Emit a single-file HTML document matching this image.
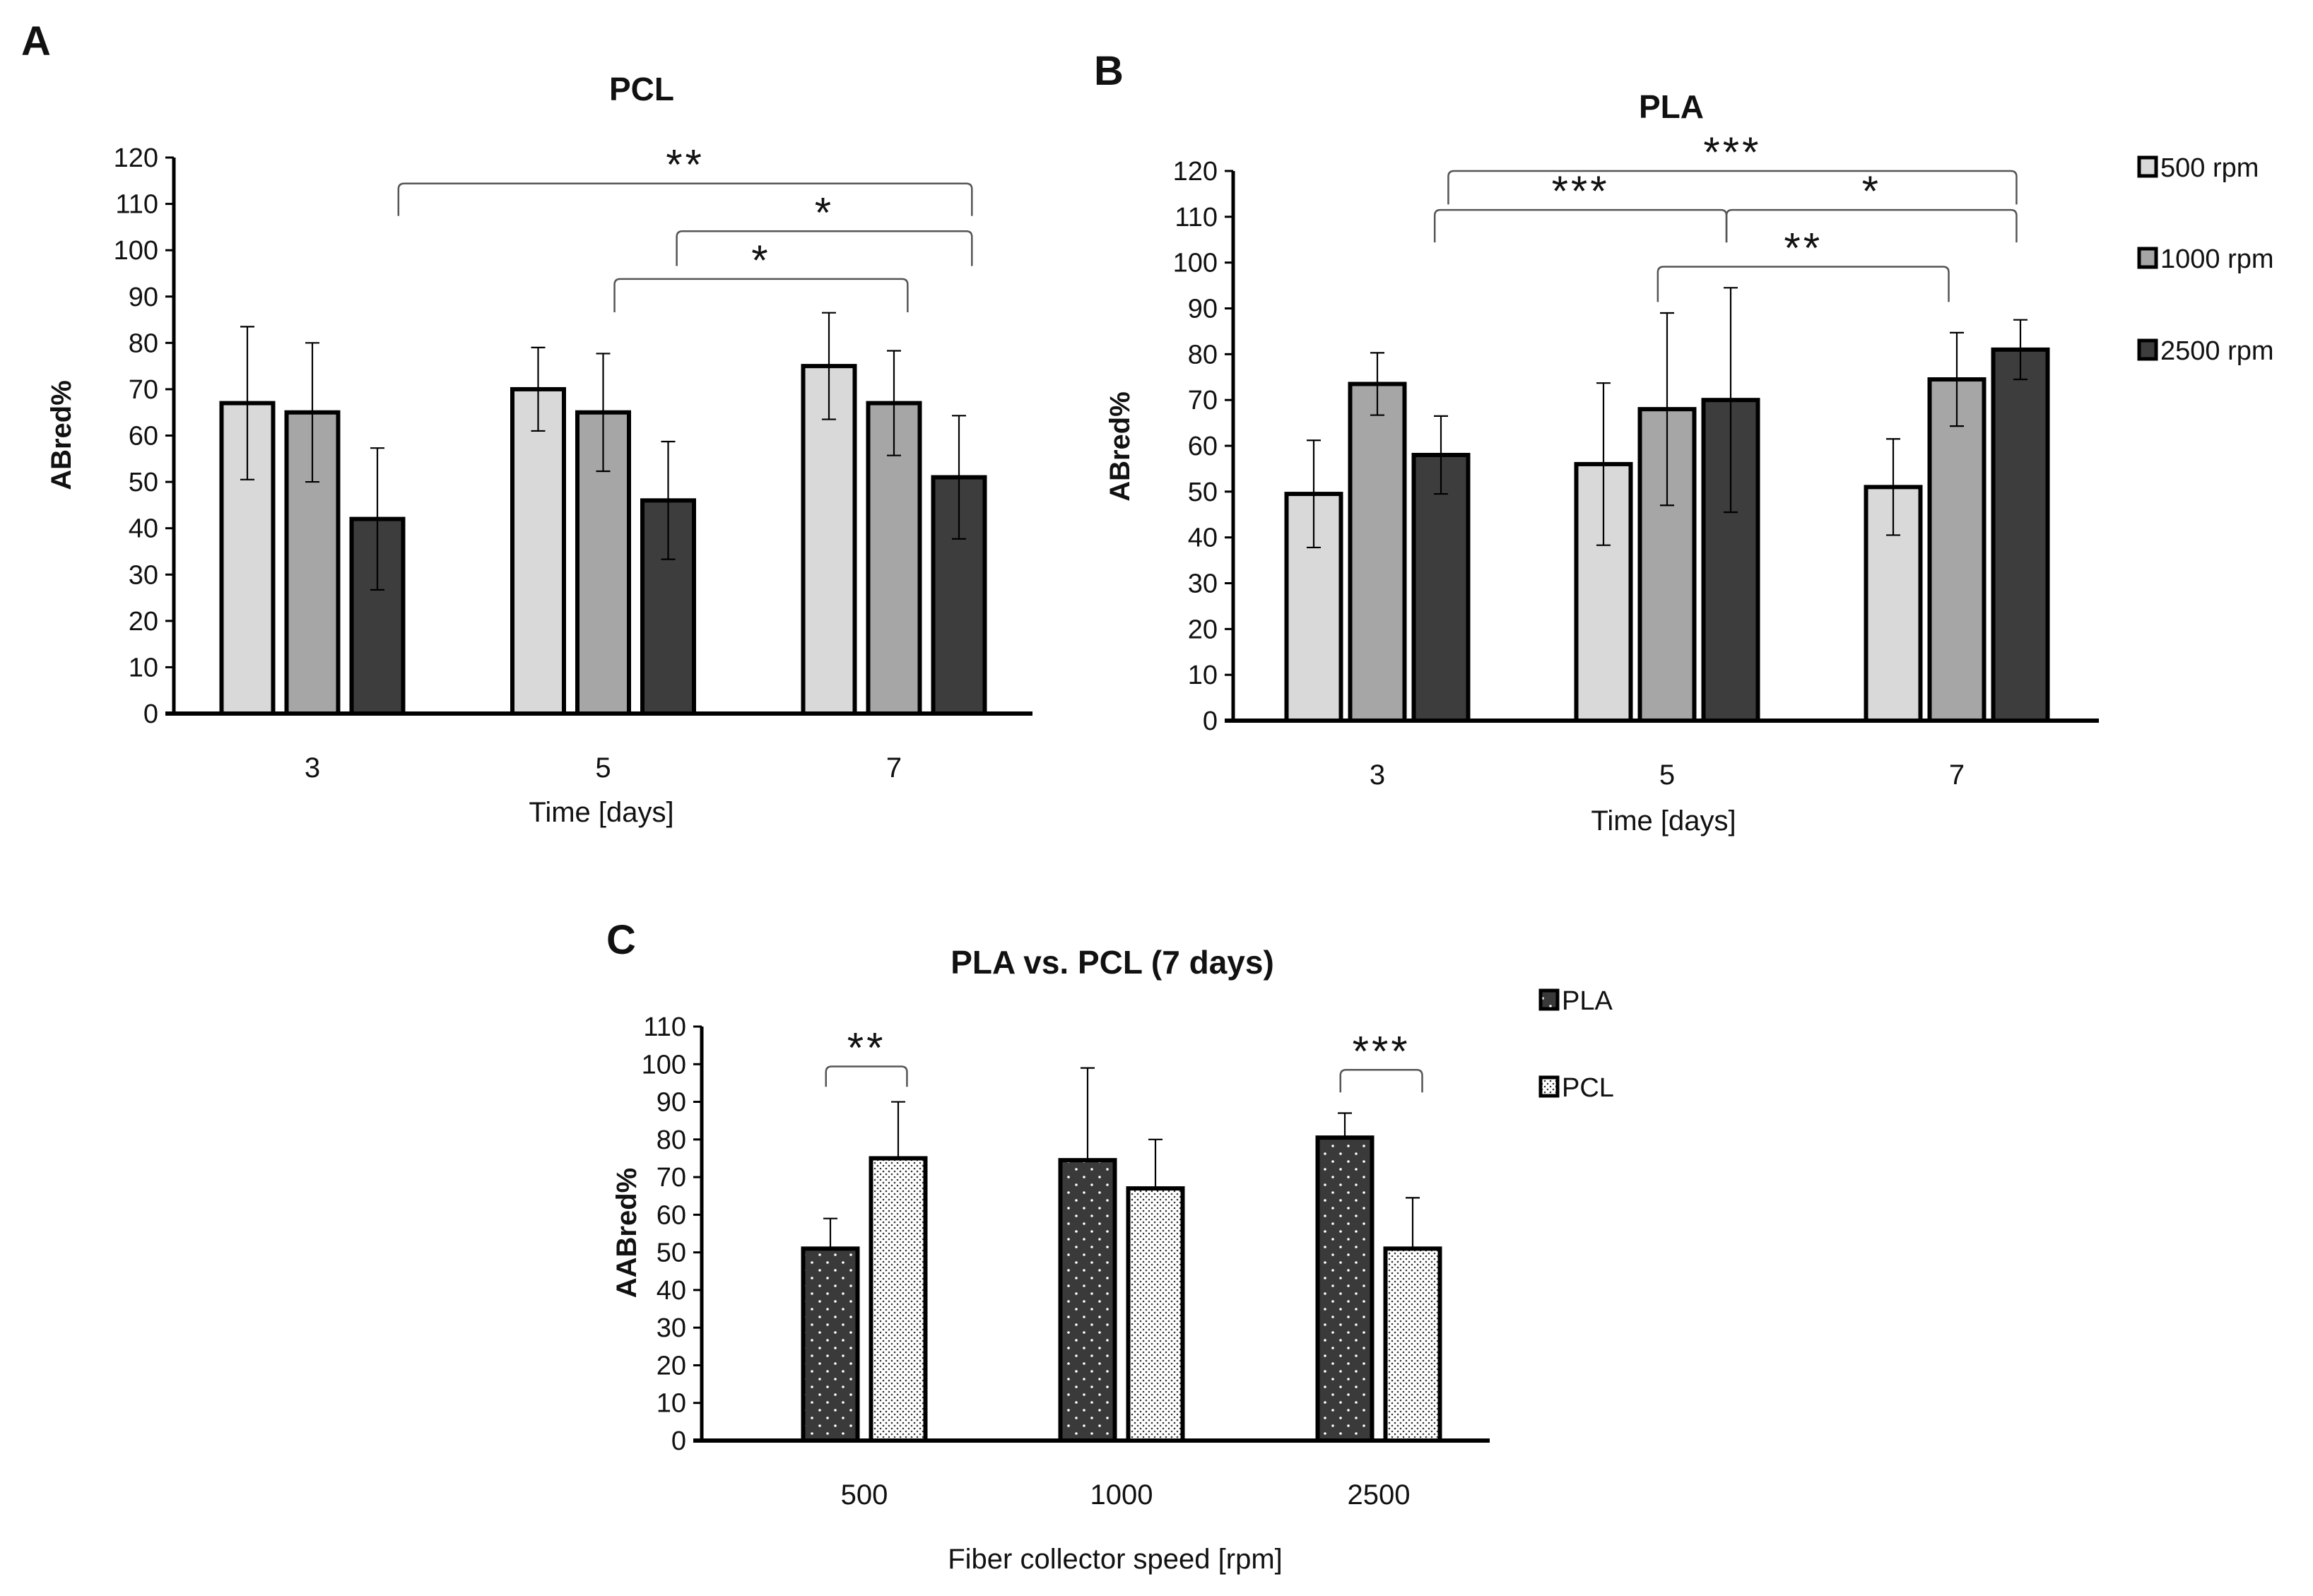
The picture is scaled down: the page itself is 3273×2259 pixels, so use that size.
<!DOCTYPE html>
<html><head><meta charset="utf-8"><style>
html,body{margin:0;padding:0;background:#fff}
svg{display:block}
text{font-family:"Liberation Sans Narrow","Liberation Sans",sans-serif;fill:#111}
</style></head><body>
<svg id="fig" width="3273" height="2259" viewBox="0 0 3273 2259" xmlns="http://www.w3.org/2000/svg">
<defs>
<pattern id="plaPat" width="22" height="22" patternUnits="userSpaceOnUse"><rect width="22" height="22" fill="#3a3a3a"/><circle cx="5" cy="5" r="1.8" fill="#fff"/><circle cx="16" cy="16" r="1.8" fill="#fff"/></pattern>
<pattern id="pclPat" width="8" height="8" patternUnits="userSpaceOnUse"><rect width="8" height="8" fill="#fff"/><circle cx="2" cy="2" r="1.3" fill="#333"/><circle cx="6" cy="6" r="1.3" fill="#333"/></pattern>
</defs>
<g id="root"></g>
</svg>
<script>
// Panel A (PCL)
const catsA = ["3","5","7"];
const a500 = [67,70,75], a500e = [16.5,9,11.5];
const a1000 = [65,65,67], a1000e = [15,12.7,11.3];
const a2500 = [42,46,51], a2500e = [15.3,12.7,13.3];
// Panel B (PLA)
const catsB = ["3","5","7"];
const b500 = [49.5,56,51], b500e = [11.7,17.7,10.5];
const b1000 = [73.5,68,74.5], b1000e = [6.8,21,10.2];
const b2500 = [58,70,81], b2500e = [8.5,24.5,6.5];
// Panel C
const catsC = ["500","1000","2500"];
const cPLA = [51,74.5,80.5], cPLAe = [8,24.5,6.5];
const cPCL = [75,67,51], cPCLe = [15,13,13.5];
const ticks120 = [0,10,20,30,40,50,60,70,80,90,100,110,120];
const ticks110 = [0,10,20,30,40,50,60,70,80,90,100,110];
// brackets: [fromCat, toCat, topValue, leftDropValue, rightDropValue, label]
const brA = [[0.296,2.268,114.4,107.4,107.4,"**"],[1.253,2.268,104.1,96.6,96.6,"*"],[1.039,2.047,93.8,86.6,86.6,"*"]];
const brB = [[0.245,2.206,120,112.7,112.7,"***"],[0.198,1.205,111.5,104.4,104.4,"***"],[1.205,2.206,111.5,104.4,104.4,"*"],[0.968,1.972,99.1,91.4,91.4,"**"]];
const brC = [[-0.149,0.166,99.4,94,94,"**"],[1.851,2.169,98.5,92.5,92.5,"***"]];

const NS="http://www.w3.org/2000/svg";
const root=document.getElementById('root');
function mk(tag,attrs,parent){const e=document.createElementNS(NS,tag);for(const k in attrs)e.setAttribute(k,attrs[k]);(parent||root).appendChild(e);return e;}
function txt(s,attrs,parent){const e=mk('text',attrs,parent);e.textContent=s;return e;}

function panel(o){
  const g=mk('g',{});
  
  
  const y=v=>o.y0-(v/o.ymax)*(o.y0-o.ytop);
  const x=i=>o.cx0+i*o.dx;
  // y ticks
  o.ticks.forEach(t=>{
    const tl=txt(String(t),{x:o.ax-22,y:y(t)+13,'font-size':38,'text-anchor':'end'},g);
    
    
    mk('line',{x1:o.ax-12,x2:o.ax,y1:y(t),y2:y(t),stroke:'#000','stroke-width':3},g);
  });
  // bars
  o.series.forEach((s,si)=>{
    s.vals.forEach((v,i)=>{
      const cx=x(i)+s.off;
      const r=mk('rect',{x:cx-o.bw/2,y:y(v),width:o.bw,height:o.y0-y(v),fill:s.fill,stroke:'#000','stroke-width':6},g);
      
      
      const e=s.err[i];
      const yt=y(v+e), yb=o.oneSided?y(v):y(v-e);
      const el=mk('path',{d:`M${cx} ${yt}V${yb}M${cx-10} ${yt}H${cx+10}`+(o.oneSided?'':`M${cx-10} ${yb}H${cx+10}`),stroke:'#000','stroke-width':2.2,fill:'none'},g);
      
      
    });
  });
  // axes
  const ya=mk('line',{x1:o.ax,x2:o.ax,y1:o.ytop,y2:o.y0,stroke:'#000','stroke-width':5},g);
  
  
  const xa=mk('line',{x1:o.ax-12,x2:o.xend,y1:o.y0,y2:o.y0,stroke:'#000','stroke-width':6},g);
  
  
  o.cats.forEach((c,i)=>{
    const t=txt(c,{x:x(i),y:o.y0+90,'font-size':40,'text-anchor':'middle'},g);
    
    
  });
  // brackets
  o.br.forEach(b=>{
    const x1=x(b[0]),x2=x(b[1]),yt=y(b[2]),yl=y(b[3]),yr=y(b[4]);
    const p=mk('path',{d:`M${x1} ${yl}V${yt+8}Q${x1} ${yt} ${x1+8} ${yt}H${x2-8}Q${x2} ${yt} ${x2} ${yt+8}V${yr}`,stroke:'#555','stroke-width':2.5,fill:'none'},g);
    
    
    const s=txt(b[5],{x:(x1+x2)/2,y:yt-6,'font-size':60,'text-anchor':'middle','letter-spacing':4},g);
    
    
  });
  // labels
  const tt=txt(o.title,{x:o.titleX,y:o.titleY,'font-size':46,'font-weight':'bold','text-anchor':'middle'},g);
  
  
  const pl=txt(o.letter,{x:o.letterX,y:o.letterY,'font-size':58,'font-weight':'bold'},g);
  
  
  const xl=txt(o.xlabel,{x:o.xlX,y:o.xlY,'font-size':40,'text-anchor':'middle'},g);
  
  
  const yl=txt(o.ylabel,{x:0,y:0,'font-size':40,'font-weight':'bold','text-anchor':'middle',transform:`translate(${o.ylX},${o.ylY}) rotate(-90)`},g);
  
  
  // legend
  (o.legend||[]).forEach(L=>{
    const r=mk('rect',{x:L.x,y:L.y-13,width:24,height:26,fill:L.fill,stroke:'#000','stroke-width':5},g);
    
    
    const t=txt(L.label,{x:L.x+30,y:L.y+14,'font-size':38},g);
    
    
  });
}

panel({name:'panel-a-pcl',cats:catsA,ax:246,ytop:223,y0:1010,ymax:120,ticks:ticks120,cx0:442,dx:411.5,xend:1461,bw:73,
  series:[{key:'500',vals:a500,err:a500e,fill:'#d9d9d9',off:-92},{key:'1000',vals:a1000,err:a1000e,fill:'#a6a6a6',off:0},{key:'2500',vals:a2500,err:a2500e,fill:'#3d3d3d',off:92}],
  br:brA,title:'PCL',titleX:908,titleY:142,letter:'A',letterX:30,letterY:78,xlabel:'Time [days]',xlX:851,xlY:1163,ylabel:'ABred%',ylX:100,ylY:616});

panel({name:'panel-b-pla',cats:catsB,ax:1745,ytop:242,y0:1020,ymax:120,ticks:ticks120,cx0:1949,dx:410,xend:2970,bw:77,
  series:[{key:'500',vals:b500,err:b500e,fill:'#d9d9d9',off:-90},{key:'1000',vals:b1000,err:b1000e,fill:'#a6a6a6',off:0},{key:'2500',vals:b2500,err:b2500e,fill:'#3d3d3d',off:90}],
  br:brB,title:'PLA',titleX:2365,titleY:167,letter:'B',letterX:1548,letterY:120,xlabel:'Time [days]',xlX:2354,xlY:1175,ylabel:'ABred%',ylX:1598,ylY:632,
  legend:[{x:3027,y:236,fill:'#d9d9d9',label:'500 rpm'},{x:3027,y:365,fill:'#a6a6a6',label:'1000 rpm'},{x:3027,y:495,fill:'#3d3d3d',label:'2500 rpm'}]});

panel({name:'panel-c-pla-vs-pcl',cats:catsC,ax:993,ytop:1453,y0:2039,ymax:110,ticks:ticks110,cx0:1223,dx:364,xend:2108,bw:77,oneSided:true,
  series:[{key:'pla',vals:cPLA,err:cPLAe,fill:'url(#plaPat)',off:-48},{key:'pcl',vals:cPCL,err:cPCLe,fill:'url(#pclPat)',off:48}],
  br:brC,title:'PLA vs. PCL (7 days)',titleX:1574,titleY:1378,letter:'C',letterX:858,letterY:1350,xlabel:'Fiber collector speed [rpm]',xlX:1578,xlY:2220,ylabel:'AABred%',ylX:900,ylY:1745,
  legend:[{x:2180,y:1415,fill:'url(#plaPat)',label:'PLA'},{x:2180,y:1538,fill:'url(#pclPat)',label:'PCL'}]});
</script>
</body></html>
